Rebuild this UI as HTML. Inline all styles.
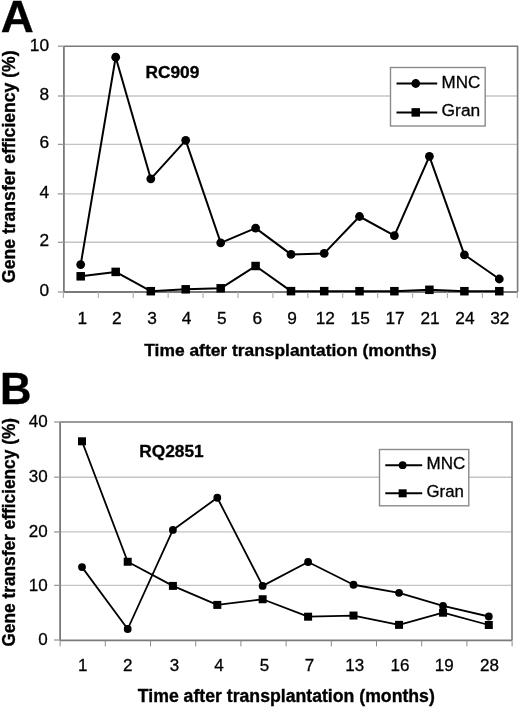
<!DOCTYPE html>
<html><head><meta charset="utf-8"><style>
html,body{margin:0;padding:0;background:#fff;}
svg{display:block;will-change:transform;filter:blur(0.35px);}
text{font-family:"Liberation Sans",sans-serif;fill:#000;stroke:#000;stroke-width:0.3px;}
.b{font-weight:bold;stroke:#000;stroke-width:0.35px;}
</style></head><body>
<svg width="520" height="709" viewBox="0 0 520 709">

<line x1="63.9" y1="96" x2="517.5999999999999" y2="96" stroke="#c4c4c4" stroke-width="1.4"/>
<line x1="63.9" y1="144.4" x2="517.5999999999999" y2="144.4" stroke="#c4c4c4" stroke-width="1.4"/>
<line x1="63.9" y1="193.9" x2="517.5999999999999" y2="193.9" stroke="#c4c4c4" stroke-width="1.4"/>
<line x1="63.9" y1="242.3" x2="517.5999999999999" y2="242.3" stroke="#c4c4c4" stroke-width="1.4"/>
<path d="M63.9 46.2 H517.5999999999999 V292" fill="none" stroke="#7a7a7a" stroke-width="1.6"/>
<line x1="63.9" y1="46.2" x2="63.9" y2="292" stroke="#7a7a7a" stroke-width="1.8"/>
<line x1="57.9" y1="46.2" x2="63.9" y2="46.2" stroke="#999" stroke-width="1.3"/>
<line x1="57.9" y1="96" x2="63.9" y2="96" stroke="#999" stroke-width="1.3"/>
<line x1="57.9" y1="144.4" x2="63.9" y2="144.4" stroke="#999" stroke-width="1.3"/>
<line x1="57.9" y1="193.9" x2="63.9" y2="193.9" stroke="#999" stroke-width="1.3"/>
<line x1="57.9" y1="242.3" x2="63.9" y2="242.3" stroke="#999" stroke-width="1.3"/>
<line x1="57.9" y1="292" x2="63.9" y2="292" stroke="#999" stroke-width="1.3"/>
<line x1="63.9" y1="292" x2="517.5999999999999" y2="292" stroke="#7a7a7a" stroke-width="1.8"/>
<line x1="63.40" y1="292" x2="63.40" y2="298" stroke="#b0b0b0" stroke-width="1.2"/>
<line x1="98.32" y1="292" x2="98.32" y2="298" stroke="#b0b0b0" stroke-width="1.2"/>
<line x1="133.23" y1="292" x2="133.23" y2="298" stroke="#b0b0b0" stroke-width="1.2"/>
<line x1="168.15" y1="292" x2="168.15" y2="298" stroke="#b0b0b0" stroke-width="1.2"/>
<line x1="203.06" y1="292" x2="203.06" y2="298" stroke="#b0b0b0" stroke-width="1.2"/>
<line x1="237.98" y1="292" x2="237.98" y2="298" stroke="#b0b0b0" stroke-width="1.2"/>
<line x1="272.89" y1="292" x2="272.89" y2="298" stroke="#b0b0b0" stroke-width="1.2"/>
<line x1="307.81" y1="292" x2="307.81" y2="298" stroke="#b0b0b0" stroke-width="1.2"/>
<line x1="342.72" y1="292" x2="342.72" y2="298" stroke="#b0b0b0" stroke-width="1.2"/>
<line x1="377.64" y1="292" x2="377.64" y2="298" stroke="#b0b0b0" stroke-width="1.2"/>
<line x1="412.55" y1="292" x2="412.55" y2="298" stroke="#b0b0b0" stroke-width="1.2"/>
<line x1="447.47" y1="292" x2="447.47" y2="298" stroke="#b0b0b0" stroke-width="1.2"/>
<line x1="482.38" y1="292" x2="482.38" y2="298" stroke="#b0b0b0" stroke-width="1.2"/>
<line x1="517.30" y1="292" x2="517.30" y2="298" stroke="#b0b0b0" stroke-width="1.2"/>
<path d="M80.70 276.30 L115.70 271.90 L150.80 291.20 L185.70 289.30 L220.70 288.30 L255.60 266.00 L291.00 291.15 L324.20 291.15 L359.50 291.20 L394.40 291.20 L429.40 289.80 L464.40 291.20 L499.30 291.20" fill="none" stroke="#000" stroke-width="2" stroke-linejoin="round"/>
<rect x="76.45" y="272.05" width="8.5" height="8.5"/>
<rect x="111.45" y="267.65" width="8.5" height="8.5"/>
<rect x="146.55" y="286.95" width="8.5" height="8.5"/>
<rect x="181.45" y="285.05" width="8.5" height="8.5"/>
<rect x="216.45" y="284.05" width="8.5" height="8.5"/>
<rect x="251.35" y="261.75" width="8.5" height="8.5"/>
<rect x="286.75" y="286.90" width="8.5" height="8.5"/>
<rect x="319.95" y="286.90" width="8.5" height="8.5"/>
<rect x="355.25" y="286.95" width="8.5" height="8.5"/>
<rect x="390.15" y="286.95" width="8.5" height="8.5"/>
<rect x="425.15" y="285.55" width="8.5" height="8.5"/>
<rect x="460.15" y="286.95" width="8.5" height="8.5"/>
<rect x="495.05" y="286.95" width="8.5" height="8.5"/>
<path d="M80.70 264.60 L115.70 57.20 L150.80 178.80 L185.70 140.35 L220.70 242.80 L255.60 228.10 L291.00 254.40 L324.20 253.40 L359.50 216.50 L394.40 235.70 L429.40 156.30 L464.40 254.80 L499.30 279.00" fill="none" stroke="#000" stroke-width="2" stroke-linejoin="round"/>
<circle cx="80.70" cy="264.60" r="4.4"/>
<circle cx="115.70" cy="57.20" r="4.4"/>
<circle cx="150.80" cy="178.80" r="4.4"/>
<circle cx="185.70" cy="140.35" r="4.4"/>
<circle cx="220.70" cy="242.80" r="4.4"/>
<circle cx="255.60" cy="228.10" r="4.4"/>
<circle cx="291.00" cy="254.40" r="4.4"/>
<circle cx="324.20" cy="253.40" r="4.4"/>
<circle cx="359.50" cy="216.50" r="4.4"/>
<circle cx="394.40" cy="235.70" r="4.4"/>
<circle cx="429.40" cy="156.30" r="4.4"/>
<circle cx="464.40" cy="254.80" r="4.4"/>
<circle cx="499.30" cy="279.00" r="4.4"/>
<text x="49.0" y="50.6" text-anchor="end" font-size="17.3">10</text>
<text x="49.0" y="99.8" text-anchor="end" font-size="17.3">8</text>
<text x="49.0" y="148.3" text-anchor="end" font-size="17.3">6</text>
<text x="49.0" y="197.8" text-anchor="end" font-size="17.3">4</text>
<text x="49.0" y="246.2" text-anchor="end" font-size="17.3">2</text>
<text x="49.0" y="295.5" text-anchor="end" font-size="17.3">0</text>
<text x="82.26" y="323.9" text-anchor="middle" font-size="17.3">1</text>
<text x="116.77" y="323.9" text-anchor="middle" font-size="17.3">2</text>
<text x="151.99" y="323.9" text-anchor="middle" font-size="17.3">3</text>
<text x="186.50" y="323.9" text-anchor="middle" font-size="17.3">4</text>
<text x="221.82" y="323.9" text-anchor="middle" font-size="17.3">5</text>
<text x="257.43" y="323.9" text-anchor="middle" font-size="17.3">6</text>
<text x="292.15" y="323.9" text-anchor="middle" font-size="17.3">9</text>
<text x="325.27" y="323.9" text-anchor="middle" font-size="17.3">12</text>
<text x="360.18" y="323.9" text-anchor="middle" font-size="17.3">15</text>
<text x="395.10" y="323.9" text-anchor="middle" font-size="17.3">17</text>
<text x="430.01" y="323.9" text-anchor="middle" font-size="17.3">21</text>
<text x="464.93" y="323.9" text-anchor="middle" font-size="17.3">24</text>
<text x="499.84" y="323.9" text-anchor="middle" font-size="17.3">32</text>
<rect x="390.5" y="67.5" width="94.69999999999999" height="58.5" fill="#fff" stroke="#8a8a8a" stroke-width="1.4"/>
<line x1="396.5" y1="83.5" x2="437.2" y2="83.5" stroke="#000" stroke-width="2"/>
<circle cx="415.75" cy="83.5" r="4.4"/>
<text x="441.6" y="87.7" font-size="17.3" textLength="38.7" lengthAdjust="spacingAndGlyphs">MNC</text>
<line x1="396.5" y1="112.4" x2="437.2" y2="112.4" stroke="#000" stroke-width="2"/>
<rect x="411.5" y="108.15" width="8.5" height="8.5"/>
<text x="441.6" y="116.4" font-size="17.3" textLength="38.6" lengthAdjust="spacingAndGlyphs">Gran</text>
<text class="b" x="145.5" y="78.3" font-size="17.3">RC909</text>
<text class="b" transform="translate(15.3 166.7) rotate(-90) scale(1 1.09)" text-anchor="middle" font-size="17.4" textLength="232.5" lengthAdjust="spacingAndGlyphs">Gene transfer efficiency (%)</text>
<text class="b" x="144.3" y="356.3" font-size="17.4" textLength="292.5" lengthAdjust="spacingAndGlyphs">Time after transplantation (months)</text>
<text class="b" transform="translate(0.8 32.3) scale(1.03 1)" font-size="44.4">A</text>
<line x1="60.1" y1="477.2" x2="512.0" y2="477.2" stroke="#c4c4c4" stroke-width="1.4"/>
<line x1="60.1" y1="531.9" x2="512.0" y2="531.9" stroke="#c4c4c4" stroke-width="1.4"/>
<line x1="60.1" y1="585.4" x2="512.0" y2="585.4" stroke="#c4c4c4" stroke-width="1.4"/>
<path d="M60.1 422 H512.0 V640.3" fill="none" stroke="#7a7a7a" stroke-width="1.6"/>
<line x1="60.1" y1="422" x2="60.1" y2="640.3" stroke="#7a7a7a" stroke-width="1.8"/>
<line x1="54.1" y1="422" x2="60.1" y2="422" stroke="#999" stroke-width="1.3"/>
<line x1="54.1" y1="477.2" x2="60.1" y2="477.2" stroke="#999" stroke-width="1.3"/>
<line x1="54.1" y1="531.9" x2="60.1" y2="531.9" stroke="#999" stroke-width="1.3"/>
<line x1="54.1" y1="585.4" x2="60.1" y2="585.4" stroke="#999" stroke-width="1.3"/>
<line x1="54.1" y1="640" x2="60.1" y2="640" stroke="#999" stroke-width="1.3"/>
<line x1="60.1" y1="640.3" x2="512.0" y2="640.3" stroke="#7a7a7a" stroke-width="1.8"/>
<line x1="60.10" y1="640.3" x2="60.10" y2="646.3" stroke="#8a8a8a" stroke-width="1.0"/>
<line x1="105.30" y1="640.3" x2="105.30" y2="646.3" stroke="#8a8a8a" stroke-width="1.0"/>
<line x1="150.50" y1="640.3" x2="150.50" y2="646.3" stroke="#8a8a8a" stroke-width="1.0"/>
<line x1="195.70" y1="640.3" x2="195.70" y2="646.3" stroke="#8a8a8a" stroke-width="1.0"/>
<line x1="240.90" y1="640.3" x2="240.90" y2="646.3" stroke="#8a8a8a" stroke-width="1.0"/>
<line x1="286.10" y1="640.3" x2="286.10" y2="646.3" stroke="#8a8a8a" stroke-width="1.0"/>
<line x1="331.30" y1="640.3" x2="331.30" y2="646.3" stroke="#8a8a8a" stroke-width="1.0"/>
<line x1="376.50" y1="640.3" x2="376.50" y2="646.3" stroke="#8a8a8a" stroke-width="1.0"/>
<line x1="421.70" y1="640.3" x2="421.70" y2="646.3" stroke="#8a8a8a" stroke-width="1.0"/>
<line x1="466.90" y1="640.3" x2="466.90" y2="646.3" stroke="#8a8a8a" stroke-width="1.0"/>
<line x1="512.10" y1="640.3" x2="512.10" y2="646.3" stroke="#8a8a8a" stroke-width="1.0"/>
<path d="M82.00 441.30 L127.70 561.75 L172.90 585.90 L217.30 604.90 L262.65 599.25 L308.10 616.70 L353.50 615.55 L399.05 624.85 L443.05 612.70 L488.80 625.00" fill="none" stroke="#000" stroke-width="1.8" stroke-linejoin="round"/>
<rect x="78.00" y="437.30" width="8" height="8"/>
<rect x="123.70" y="557.75" width="8" height="8"/>
<rect x="168.90" y="581.90" width="8" height="8"/>
<rect x="213.30" y="600.90" width="8" height="8"/>
<rect x="258.65" y="595.25" width="8" height="8"/>
<rect x="304.10" y="612.70" width="8" height="8"/>
<rect x="349.50" y="611.55" width="8" height="8"/>
<rect x="395.05" y="620.85" width="8" height="8"/>
<rect x="439.05" y="608.70" width="8" height="8"/>
<rect x="484.80" y="621.00" width="8" height="8"/>
<path d="M82.00 567.10 L127.70 629.00 L172.90 529.90 L217.30 497.75 L262.65 585.90 L308.10 562.00 L353.50 584.75 L399.05 592.85 L443.05 605.80 L488.80 616.50" fill="none" stroke="#000" stroke-width="1.8" stroke-linejoin="round"/>
<circle cx="82.00" cy="567.10" r="3.9"/>
<circle cx="127.70" cy="629.00" r="3.9"/>
<circle cx="172.90" cy="529.90" r="3.9"/>
<circle cx="217.30" cy="497.75" r="3.9"/>
<circle cx="262.65" cy="585.90" r="3.9"/>
<circle cx="308.10" cy="562.00" r="3.9"/>
<circle cx="353.50" cy="584.75" r="3.9"/>
<circle cx="399.05" cy="592.85" r="3.9"/>
<circle cx="443.05" cy="605.80" r="3.9"/>
<circle cx="488.80" cy="616.50" r="3.9"/>
<text x="47.7" y="426.8" text-anchor="end" font-size="17.0">40</text>
<text x="47.7" y="481.9" text-anchor="end" font-size="17.0">30</text>
<text x="47.7" y="537.3" text-anchor="end" font-size="17.0">20</text>
<text x="47.7" y="590.6" text-anchor="end" font-size="17.0">10</text>
<text x="47.7" y="645.2" text-anchor="end" font-size="17.0">0</text>
<text x="82.70" y="670.8" text-anchor="middle" font-size="17.0">1</text>
<text x="127.80" y="670.8" text-anchor="middle" font-size="17.0">2</text>
<text x="174.50" y="670.8" text-anchor="middle" font-size="17.0">3</text>
<text x="219.00" y="670.8" text-anchor="middle" font-size="17.0">4</text>
<text x="264.40" y="670.8" text-anchor="middle" font-size="17.0">5</text>
<text x="309.60" y="670.8" text-anchor="middle" font-size="17.0">7</text>
<text x="354.80" y="670.8" text-anchor="middle" font-size="17.0">13</text>
<text x="400.00" y="670.8" text-anchor="middle" font-size="17.0">16</text>
<text x="444.20" y="670.8" text-anchor="middle" font-size="17.0">19</text>
<text x="489.40" y="670.8" text-anchor="middle" font-size="17.0">28</text>
<rect x="379.5" y="449.5" width="89.30000000000001" height="56.30000000000001" fill="#fff" stroke="#8a8a8a" stroke-width="1.4"/>
<line x1="385.3" y1="465.2" x2="422.2" y2="465.2" stroke="#000" stroke-width="2"/>
<circle cx="402.65" cy="465.2" r="3.9"/>
<text x="426.5" y="468.8" font-size="17.0" textLength="38.7" lengthAdjust="spacingAndGlyphs">MNC</text>
<line x1="385.3" y1="493.3" x2="422.2" y2="493.3" stroke="#000" stroke-width="2"/>
<rect x="398.65" y="489.3" width="8" height="8"/>
<text x="426.5" y="496.7" font-size="17.0" textLength="37.4" lengthAdjust="spacingAndGlyphs">Gran</text>
<text class="b" x="139.3" y="457.3" font-size="17.3">RQ2851</text>
<text class="b" transform="translate(15.3 532.3) rotate(-90) scale(1 1.09)" text-anchor="middle" font-size="17.2" textLength="228.6" lengthAdjust="spacingAndGlyphs">Gene transfer efficiency (%)</text>
<text class="b" x="137.8" y="701.5" font-size="17.6" textLength="297" lengthAdjust="spacingAndGlyphs">Time after transplantation (months)</text>
<text class="b" transform="translate(0 404.3) scale(0.98 1)" font-size="44.5">B</text>
</svg>
</body></html>
